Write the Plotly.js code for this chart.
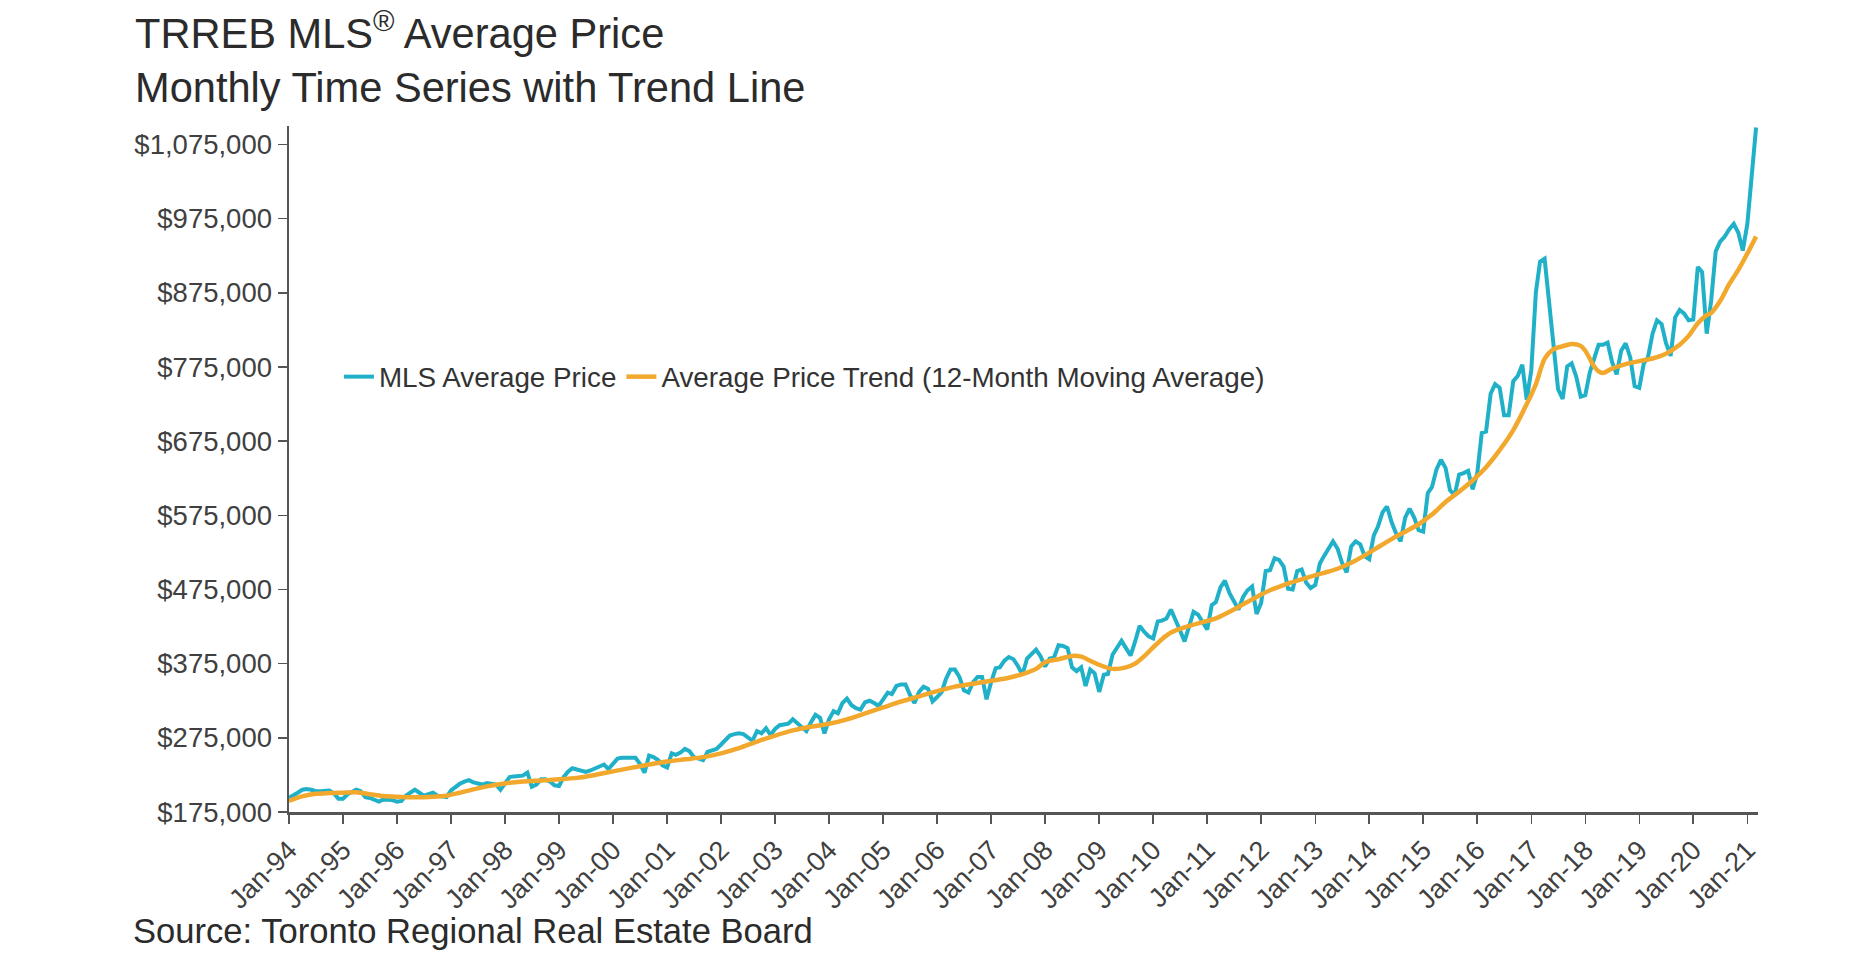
<!DOCTYPE html>
<html>
<head>
<meta charset="utf-8">
<script src="https://cdn.plot.ly/plotly-3.0.1.min.js"></script>
<style>
  html, body { margin: 0; padding: 0; background: #ffffff; }
  #chart { width: 1866px; height: 958px; }
</style>
</head>
<body>
<div id="chart"></div>
<script>
// ---- DATA ----
const startYear = 1994;                 // first month of the series: Jan-94
const seriesNames = ["MLS Average Price", "Average Price Trend (12-Month Moving Average)"];

// Monthly MLS average price, Jan-1994 .. Mar-2021 (one row per year)
const mlsAvgPrice = [
  194000, 197000, 201000, 205000, 206000, 205000, 203000, 203000, 204000, 204000, 200000, 193000, // 1994
  193000, 199000, 202000, 205000, 203000, 195000, 194000, 191000, 189000, 192000, 192000, 191000, // 1995
  189000, 190000, 197000, 201000, 205000, 201000, 197000, 199000, 201000, 197000, 196000, 195000, // 1996
  204000, 209000, 213000, 216000, 218000, 215000, 213000, 212000, 214000, 213000, 212000, 205000, // 1997
  214000, 222000, 223000, 224000, 224000, 228000, 209000, 212000, 219000, 219000, 216000, 211000, // 1998
  210000, 222000, 229000, 234000, 232000, 230000, 229000, 231000, 234000, 237000, 239000, 233000, // 1999
  240000, 247000, 248000, 248000, 248000, 248000, 240000, 228000, 251000, 249000, 245000, 238000, // 2000
  235000, 254000, 252000, 255000, 260000, 257000, 249000, 247000, 245000, 256000, 258000, 260000, // 2001
  266000, 273000, 278000, 280000, 281000, 280000, 275000, 271000, 284000, 281000, 288000, 279000, // 2002
  287000, 292000, 293000, 294000, 300000, 294000, 290000, 284000, 296000, 306000, 302000, 281000, // 2003
  300000, 311000, 308000, 322000, 328000, 319000, 315000, 313000, 323000, 325000, 322000, 318000, // 2004
  327000, 336000, 334000, 345000, 347000, 347000, 333000, 322000, 337000, 344000, 341000, 324000, // 2005
  330000, 337000, 354000, 367000, 367000, 357000, 339000, 336000, 350000, 357000, 357000, 327000, // 2006
  350000, 369000, 370000, 379000, 384000, 381000, 372000, 360000, 382000, 388000, 394000, 385000, // 2007
  371000, 382000, 383000, 400000, 399000, 396000, 370000, 365000, 370000, 345000, 367000, 362000, // 2008
  337000, 360000, 361000, 387000, 396000, 406000, 396000, 386000, 405000, 426000, 418000, 412000, // 2009
  409000, 432000, 433000, 436000, 448000, 435000, 420000, 405000, 425000, 445000, 441000, 430000, // 2010
  421000, 454000, 458000, 478000, 487000, 470000, 460000, 448000, 465000, 474000, 479000, 442000, // 2011
  457000, 500000, 501000, 517000, 515000, 506000, 476000, 475000, 500000, 502000, 484000, 477000, // 2012
  481000, 510000, 520000, 530000, 540000, 530000, 511000, 498000, 533000, 540000, 536000, 520000, // 2013
  516000, 548000, 560000, 579000, 587000, 566000, 551000, 540000, 572000, 584000, 572000, 555000, // 2014
  553000, 605000, 613000, 637000, 650000, 639000, 609000, 602000, 630000, 632000, 635000, 610000, // 2015
  631000, 686000, 688000, 739000, 752000, 747000, 710000, 710000, 756000, 763000, 778000, 731000, // 2016
  771000, 876000, 917000, 921000, 864000, 794000, 745000, 732000, 776000, 780000, 762000, 735000, // 2017
  737000, 768000, 785000, 805000, 805000, 808000, 782000, 765000, 797000, 807000, 788000, 749000, // 2018
  747000, 780000, 788000, 820000, 838000, 833000, 807000, 790000, 842000, 852000, 847000, 838000, // 2019
  839000, 910000, 903000, 820000, 864000, 931000, 944000, 951000, 961000, 968000, 956000, 932000, // 2020
  968000, 1045000, 1098000                                                                         // 2021
];

// Trend line, read at these month offsets from Jan-94
const trendMonthIndex = [
  0, 3, 6, 9, 12, 15, 18, 21, 24, 28, 32, 35, 38, 41, 44, 48, 52, 56, 60, 64, 68, 72, 76, 80, 84, 88, 92, 96,
  100, 104, 108, 112, 116, 120, 124, 128, 132, 136, 140, 144, 148, 152, 156, 160, 164, 166, 168, 171, 174, 176,
  178, 180, 183, 186, 188, 190, 192, 194, 196, 198, 200, 203, 206, 209, 212, 215, 218, 221, 224, 227, 230, 233,
  236, 239, 242, 245, 248, 251, 254, 257, 260, 263, 266, 269, 272, 275, 277, 279, 281, 283, 285, 287, 288, 289,
  290, 291, 292, 294, 297, 300, 303, 306, 309, 311, 313, 315, 316, 318, 320, 322, 324, 326
];
const trendValues = [
  190000, 196000, 199500, 200500, 201000, 201500, 199000, 196500, 195500, 194800, 195500, 197000, 201000, 205500,
  209500, 213500, 216000, 217500, 219000, 221000, 225000, 229800, 234500, 239000, 243000, 246000, 249000, 254000,
  261000, 270000, 278000, 285000, 290000, 294000, 300000, 308000, 316000, 324000, 331000, 338000, 344000, 348000,
  352000, 356000, 363000, 368000, 377000, 381000, 385500, 384500, 379000, 373500, 368000, 370000, 375000, 385000,
  397000, 408000, 417000, 422000, 426000, 431000, 436000, 445000, 455000, 465000, 474000, 481000, 487000, 492500,
  497500, 503000, 511000, 521000, 532000, 543000, 553000, 563000, 576000, 593000, 607000, 622000, 640000, 663000,
  690000, 725000, 752000, 786000, 799000, 803000, 806000, 803500, 797000, 786000, 776000, 769000, 767000, 773000,
  779000, 783000, 786500, 793000, 805000, 817000, 834000, 845000, 848000, 864000, 887000, 906000, 928000, 951000
];

const xTickLabels = ["Jan-94","Jan-95","Jan-96","Jan-97","Jan-98","Jan-99","Jan-00","Jan-01","Jan-02","Jan-03",
  "Jan-04","Jan-05","Jan-06","Jan-07","Jan-08","Jan-09","Jan-10","Jan-11","Jan-12","Jan-13","Jan-14","Jan-15",
  "Jan-16","Jan-17","Jan-18","Jan-19","Jan-20","Jan-21"];

const chartTitle = "TRREB MLS<sup>®</sup> Average Price<br>Monthly Time Series with Trend Line";
const sourceNote = "Source: Toronto Regional Real Estate Board";

// ---- helpers ----
function monthDate(i) {
  const y = startYear + Math.floor(i / 12);
  const m = (i % 12) + 1;
  return y + "-" + (m < 10 ? "0" + m : m) + "-01";
}
const mlsDates = mlsAvgPrice.map((_, i) => monthDate(i));
const trendDates = trendMonthIndex.map(monthDate);
const tickDates = xTickLabels.map((_, i) => monthDate(i * 12));

const FONT = '"Liberation Sans", Arial, Helvetica, sans-serif';
const AXIS_COLOR = '#555555';
const TEXT_COLOR = '#404040';

const traces = [
  {
    x: mlsDates, y: mlsAvgPrice, name: seriesNames[0], type: 'scatter', mode: 'lines',
    line: { color: '#20b1c9', width: 4 }
  },
  {
    x: trendDates, y: trendValues, name: seriesNames[1], type: 'scatter', mode: 'lines',
    line: { color: '#f2a82c', width: 4.5, shape: 'spline', smoothing: 0.8 }
  }
];

const layout = {
  width: 1866, height: 958,
  margin: { l: 289, r: 108, t: 126, b: 146, pad: 0 },
  paper_bgcolor: '#ffffff', plot_bgcolor: '#ffffff',
  font: { family: FONT, color: TEXT_COLOR },
  showlegend: true,
  title: {
    text: chartTitle,
    font: { family: FONT, size: 41.6, color: '#2b2b2b' },
    x: 135 / 1866, xref: 'container', xanchor: 'left',
    y: 0.9496, yref: 'container', yanchor: 'top'
  },
  xaxis: {
    type: 'date',
    range: ['1994-01-01', '2021-03-14'],
    tickmode: 'array', tickvals: tickDates, ticktext: xTickLabels,
    tickangle: -45,
    tickfont: { family: FONT, size: 27, color: TEXT_COLOR },
    ticks: 'outside', ticklen: 9, tickwidth: 1.5, tickcolor: AXIS_COLOR,
    showline: true, linecolor: AXIS_COLOR, linewidth: 2.5,
    showgrid: false, zeroline: false, fixedrange: true
  },
  yaxis: {
    range: [175000, 1100000],
    tickmode: 'linear', tick0: 175000, dtick: 100000,
    tickformat: '$,.0f',
    tickfont: { family: FONT, size: 27.5, color: TEXT_COLOR },
    ticks: 'outside', ticklen: 9, tickwidth: 1.5, tickcolor: AXIS_COLOR,
    showline: true, linecolor: AXIS_COLOR, linewidth: 2.5,
    showgrid: false, zeroline: false, fixedrange: true
  },
  legend: {
    orientation: 'h',
    x: 0.034, xanchor: 'left',
    y: 0.634, yanchor: 'middle',
    font: { family: FONT, size: 27.8, color: '#333333' },
    bgcolor: 'rgba(0,0,0,0)', borderwidth: 0,
    itemwidth: 30, tracegroupgap: 0
  },
  annotations: [
    {
      text: sourceNote, showarrow: false,
      xref: 'paper', yref: 'paper',
      x: (131 - 289) / 1469, xanchor: 'left',
      y: (812 - 931) / 686, yanchor: 'middle',
      font: { family: FONT, size: 34.6, color: '#2b2b2b' }
    }
  ]
};

Plotly.newPlot('chart', traces, layout, { displayModeBar: false, staticPlot: true });
</script>
</body>
</html>
